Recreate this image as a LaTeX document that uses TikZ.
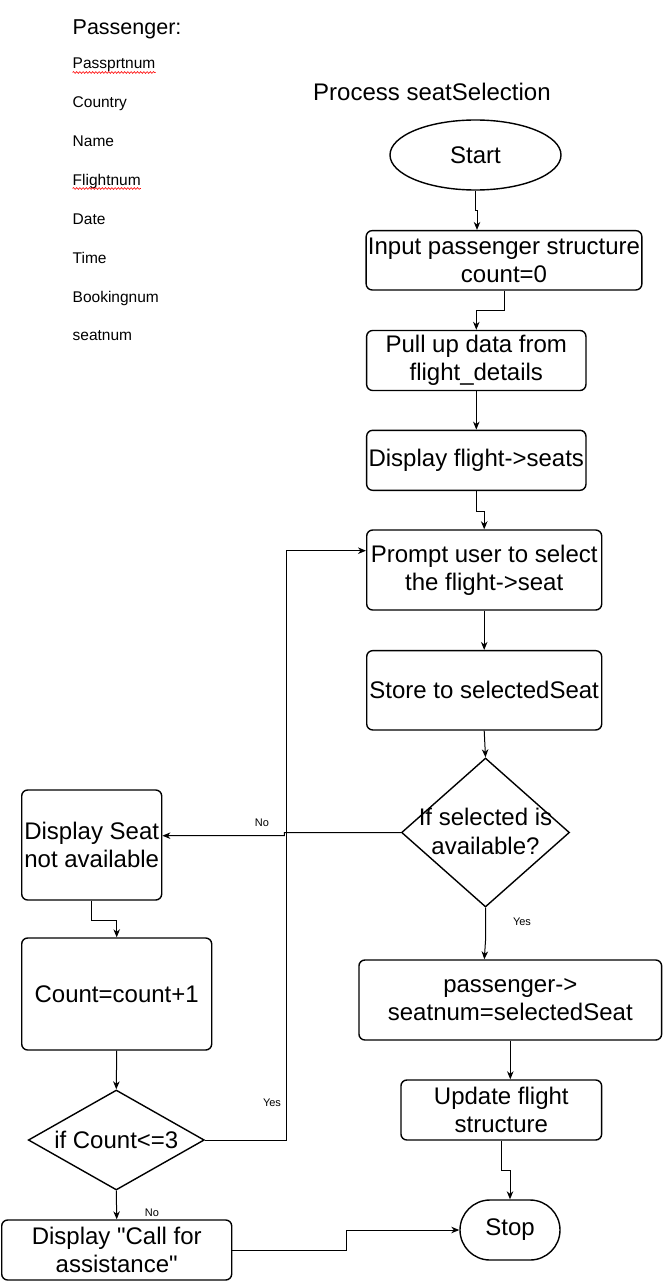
\documentclass[tikz,border=0pt]{standalone}
\usepackage{fontspec}
\setmainfont{Liberation Sans}
\newcommand\straightdq{\XeTeXglyph\XeTeXcharglyph"22\relax}
\usetikzlibrary{shapes.geometric,shapes.misc,arrows.meta,decorations.pathmorphing}
\tikzset{
  box/.style={draw, line width=1.4pt, rounded corners=6pt, inner sep=0pt, align=center,
    font=\fontsize{24}{28}\selectfont},
  term/.style={draw, line width=1.4pt, inner sep=0pt, align=center, font=\fontsize{24}{28}\selectfont},
  dia/.style={draw, diamond, line width=1.4pt, inner sep=0pt},
  dtext/.style={align=center, inner sep=0pt, font=\fontsize{24}{29}\selectfont},
  arr/.style={draw, line width=1pt, -{Stealth[length=8pt,width=6.5pt,inset=2.5pt]}},
  lbl/.style={inner sep=0pt, font=\fontsize{11}{13}\selectfont},
  field/.style={anchor=base west, inner sep=0pt, font=\fontsize{15.5}{18}\selectfont},
  squig/.style={draw=red, line width=0.6pt, decorate, decoration={snake, amplitude=0.9pt, segment length=3.2pt}}
}
\begin{document}
\begin{tikzpicture}[x=1pt,y=-1pt]
\useasboundingbox (0,0) rectangle (662,1281);
% passenger structure
\node[anchor=base west, inner sep=0pt, font=\fontsize{21.5}{24}\selectfont] (ptitle) at (72.5,35) {Passenger:};
\node[field] (f1) at (72.5,69) {Passprtnum};
\node[field] (f2) at (72.5,108) {Country};
\node[field] (f3) at (72.5,147) {Name};
\node[field] (f4) at (72.5,185.5) {Flightnum};
\node[field] (f5) at (72.5,224.5) {Date};
\node[field] (f6) at (72.5,263) {Time};
\node[field] (f7) at (72.5,302) {Bookingnum};
\node[field] (f8) at (72.5,340.5) {seatnum};
\path[squig] ([yshift=-3.5pt]f1.base west) -- ([yshift=-3.5pt]f1.base east);
\path[squig] ([yshift=-3pt]f4.base west) -- ([yshift=-3pt]f4.base east);
% title
\node[anchor=base west, inner sep=0pt, font=\fontsize{24}{26}\selectfont] (title) at (313,101) {Process seatSelection};
% main flow
\node[term, ellipse, minimum width=171pt, minimum height=70pt] (start) at (475.5,155) {Start};
\node[box, minimum width=275.7pt, minimum height=59.3pt] (b1) at (504,260.3) {Input passenger structure\\count=0};
\node[box, minimum width=219.3pt, minimum height=60pt] (b2) at (476.3,360.5) {Pull up data from\\flight\_details};
\node[box, minimum width=219.3pt, minimum height=60pt] (b3) at (476.3,460.3) {Display flight->seats};
\node[box, minimum width=235pt, minimum height=80pt] (b4) at (484.2,570) {Prompt user to select\\the flight->seat};
\node[box, minimum width=235pt, minimum height=79.3pt] (b5) at (484.2,690.3) {Store to selectedSeat};
\node[dia, minimum width=168pt, minimum height=149pt] (d1) at (485.5,832.5) {};
\node[dtext] (d1t) at (485.5,831) {If selected is\\available?};
\node[box, minimum width=302.7pt, minimum height=80pt] (b6) at (510.3,1000) {passenger->\\seatnum=selectedSeat};
\node[box, minimum width=200.7pt, minimum height=60pt] (b7) at (501.3,1110) {Update flight\\structure};
\node[term, rounded rectangle, minimum width=100pt, minimum height=60pt] (stop) at (510,1230) {Stop};
% left branch
\node[box, minimum width=140pt, minimum height=110pt] (ds) at (91.7,845) {Display Seat\\not available};
\node[box, minimum width=190pt, minimum height=112pt] (cnt) at (116.7,994) {Count=count+1};
\node[dia, minimum width=176pt, minimum height=100pt] (d2) at (116.3,1140) {};
\node[dtext] (d2t) at (116.3,1140) {if Count<=3};
\node[box, minimum width=230pt, minimum height=60pt] (call) at (116.7,1250) {Display \straightdq Call for\\assistance\straightdq};
% connectors
\draw[arr] (start.south) -- ++(0,20) -| ([xshift=-27pt]b1.north);
\draw[arr] (b1.south) -- ++(0,20) -| (b2.north);
\draw[arr] (b2.south) -- (b3.north);
\draw[arr] (b3.south) -- ++(0,20) -| (b4.north);
\draw[arr] (b4.south) -- (b5.north);
\draw[arr] (b5.south) -- (d1.north);
\draw[arr] (d1.west) -- ++(-116.5,0) -- ++(0,3) -- ([yshift=9.3pt]ds.east);
\draw[arr] (ds.south) -- ++(0,20) -| (cnt.north);
\draw[arr] (cnt.south) -- (d2.north);
\draw[arr] (d2.east) -- ++(81,0) |- ([yshift=19.3pt]b4.west);
\draw[arr] (d2.south) -- (call.north);
\draw[arr] (call.east) -- ++(114,0) |- (stop.west);
\draw[arr] (d1.south) -- ++(0,33) -- ([xshift=-26pt]b6.north);
\draw[arr] (b6.south) -- (b6.south |- b7.north);
\draw[arr] (b7.south) -- ++(0,30) -| (stop.north);
% labels
\node[lbl] (lno1) at (262,823) {No};
\node[lbl] (lyes1) at (522,922) {Yes};
\node[lbl] (lyes2) at (272,1103) {Yes};
\node[lbl] (lno2) at (152,1213) {No};
\end{tikzpicture}
\end{document}
